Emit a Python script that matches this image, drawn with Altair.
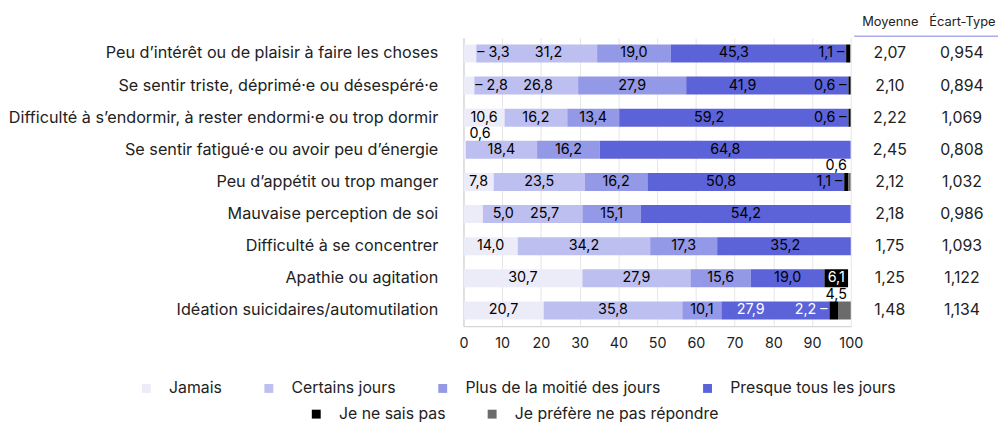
import altair as alt
import pandas as pd

items = [
    "Peu d’intérêt ou de plaisir à faire les choses",
    "Se sentir triste, déprimé·e ou désespéré·e",
    "Difficulté à s’endormir, à rester endormi·e ou trop dormir",
    "Se sentir fatigué·e ou avoir peu d’énergie",
    "Peu d’appétit ou trop manger",
    "Mauvaise perception de soi",
    "Difficulté à se concentrer",
    "Apathie ou agitation",
    "Idéation suicidaires/automutilation",
]
categories = ["Jamais", "Certains jours", "Plus de la moitié des jours",
              "Presque tous les jours", "Je ne sais pas", "Je préfère ne pas répondre"]
colors = ["#ECECF9", "#BDBFF0", "#9399E6", "#5C62D8", "#000000", "#6B6B6B"]

jamais = [3.3, 2.8, 10.6, 0.6, 7.8, 5.0, 14.0, 30.7, 20.7]
certains = [31.2, 26.8, 16.2, 18.4, 23.5, 25.7, 34.2, 27.9, 35.8]
plus_moitie = [19.0, 27.9, 13.4, 16.2, 16.2, 15.1, 17.3, 15.6, 10.1]
presque = [45.3, 41.9, 59.2, 64.8, 50.8, 54.2, 35.2, 19.0, 27.9]
ne_sais_pas = [1.1, 0.6, 0.6, 0.0, 1.1, 0.0, 0.0, 6.1, 2.2]
prefere = [0.0, 0.0, 0.0, 0.0, 0.6, 0.0, 0.0, 0.0, 4.5]

moyenne = [2.07, 2.10, 2.22, 2.45, 2.12, 2.18, 1.75, 1.25, 1.48]
ecart_type = [0.954, 0.894, 1.069, 0.808, 1.032, 0.986, 1.093, 1.122, 1.134]
table_cols = ["Moyenne", "Écart-Type"]
x_ticks = [0, 10, 20, 30, 40, 50, 60, 70, 80, 90, 100]

FONT = "Inter"
series = [jamais, certains, plus_moitie, presque, ne_sais_pas, prefere]


def fr(v, nd=1):
    return f"{v:.{nd}f}".replace(".", ",")


rows = []
for i, item in enumerate(items):
    vals = [s[i] for s in series]
    cls = []
    for k, v in enumerate(vals):
        if v <= 0:
            c = None
        elif v >= 5.5:
            c = "in"
        elif k == 0:
            c = "above_start" if v < 1 else ("out_end_dash" if v < 4 else "out_end")
        elif k == 4:
            c = "out_start"
        else:
            c = "above_end"
        cls.append(c)
    nz = [k for k in range(6) if vals[k] > 0]
    for idx, k in enumerate(nz):
        if cls[k] == "in":
            prev_c = cls[nz[idx - 1]] if idx > 0 else None
            next_c = cls[nz[idx + 1]] if idx + 1 < len(nz) else None
            if next_c == "out_start":
                cls[k] = "in_l"
            elif prev_c and prev_c.startswith("out_end"):
                cls[k] = "in_r"
    for k, v in enumerate(vals):
        c = cls[k]
        lab = fr(v)
        if c == "out_end_dash":
            lab = "– " + lab
        elif c == "out_start":
            lab = lab + " –"
        white = (k == 4 and c == "in") or (vals[5] >= 2 and k in (3, 4))
        rows.append({"item": item, "cat": categories[k], "order": k, "value": v,
                     "cls": c if c else "none", "label": lab,
                     "tcolor": "#ffffff" if white else "#000000"})
df = pd.DataFrame(rows)

yscale = alt.Scale(paddingInner=0.44, paddingOuter=0.21)
y_axis = alt.Axis(title=None, labelFontSize=16.4, labelPadding=26, ticks=False,
                  labelColor="#222222", domainColor="#cccccc", labelLimit=600)
x_axis = alt.Axis(values=x_ticks, title=None, grid=True, gridColor="#e6e6e6",
                  ticks=False, labelPadding=11, labelFontSize=14.5, labelOverlap=False,
                  labelColor="#222222", domainColor="#cccccc", labelFlush=False)
x_scale = alt.Scale(domain=[0, 100])

base = alt.Chart(df).transform_stack(
    stack="value", groupby=["item"], as_=["x0", "x1"],
    sort=[alt.SortField("order", order="ascending")]
).transform_calculate(
    mid="(datum.x0 + datum.x1) / 2",
    x1c="min(datum.x1, 100)"
)

leg_common = dict(title=None, orient="none", direction="horizontal",
                  symbolType="square", symbolSize=81, symbolOpacity=1, symbolStrokeWidth=0,
                  labelFontSize=16, labelOffset=15, columnPadding=39, labelLimit=400,
                  labelColor="#222222", padding=0)

bars = base.transform_filter("datum.value > 0").mark_bar(clip=True).encode(
    y=alt.Y("item:N", sort=items, scale=yscale, axis=y_axis),
    x=alt.X("x0:Q", scale=x_scale, axis=x_axis),
    x2="x1:Q",
    color=alt.Color("cat:N", scale=alt.Scale(domain=categories, range=colors),
                    legend=alt.Legend(values=categories[:4], legendX=-329, legendY=347,
                                      **leg_common)),
)

# second legend row (the two non-response categories)
leg2_layer = base.transform_filter("datum.order >= 4 && datum.value > 0").mark_square(
    opacity=0).encode(
    y=alt.Y("item:N", sort=items, axis=y_axis),
    x=alt.X("x0:Q", scale=x_scale, axis=x_axis),
    fill=alt.Fill("cat:N", scale=alt.Scale(domain=categories[4:], range=colors[4:]),
                  legend=alt.Legend(legendX=-157, legendY=373, **leg_common)),
)


def labels(cls, field, align, dx=0, dy=0):
    return base.transform_filter(alt.datum.cls == cls).mark_text(
        align=align, baseline="middle", dx=dx, dy=dy, fontSize=14.5
    ).encode(
        y=alt.Y("item:N", sort=items, axis=y_axis),
        x=alt.X(field + ":Q", scale=x_scale, axis=x_axis),
        text="label:N",
        color=alt.Color("tcolor:N", scale=None),
    )


layers = [
    labels("in", "mid", "center"),
    labels("in_r", "mid", "center", dx=12),
    labels("in_l", "mid", "center", dx=-25),
    labels("out_end_dash", "x1c", "left", dx=1),
    labels("out_end", "x1c", "left", dx=10),
    labels("out_start", "x0", "right", dx=-2),
    labels("above_start", "x0", "left", dx=6, dy=-16),
    labels("above_end", "x1c", "right", dx=-4, dy=-16),
]

main = alt.layer(bars, leg2_layer, *layers).properties(width=392, height=292)

trows = []
for i, item in enumerate(items):
    trows.append({"item": item, "col": table_cols[0], "txt": fr(moyenne[i], 2)})
    trows.append({"item": item, "col": table_cols[1], "txt": fr(ecart_type[i], 3)})
tdf = pd.DataFrame(trows)

table = alt.Chart(tdf).mark_text(fontSize=16, color="#222222").encode(
    x=alt.X("col:N", sort=table_cols, scale=alt.Scale(type="point", padding=0.5),
            axis=alt.Axis(orient="top", title=None, labelAngle=0, ticks=False,
                          labelFontSize=13, labelPadding=7.5, labelColor="#222222",
                          domainColor="#A9ABEA", domainWidth=1.5, offset=2)),
    y=alt.Y("item:N", sort=items, axis=None,
            scale=alt.Scale(type="band", paddingInner=0.44, paddingOuter=0.21)),
    text="txt:N",
).properties(width=146, height=292)

chart = alt.hconcat(main, table, spacing=3, bounds="flush").properties(
    padding={"left": 0, "top": 4.5, "right": 0, "bottom": 6}
).configure(font=FONT).configure_view(stroke=None)

chart.save("out.html", embed_options={"renderer": "svg", "actions": False})
